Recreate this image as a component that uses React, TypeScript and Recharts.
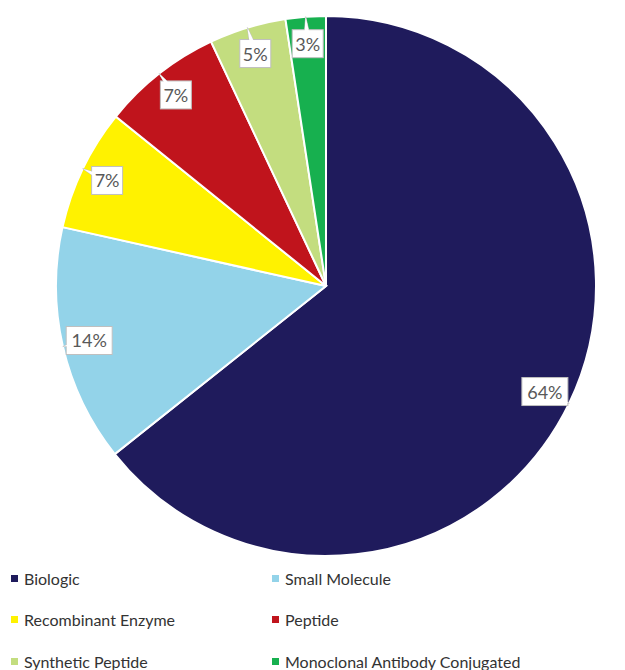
import React from "react";
import { PieChart, Pie, Cell, Legend } from "recharts";

// slice sizes, labels as printed on the chart
const categories = [
  "Biologic",
  "Small Molecule",
  "Recombinant Enzyme",
  "Peptide",
  "Synthetic Peptide",
  "Monoclonal Antibody Conjugated",
];
const shares = [64.3, 14.2, 7.3, 7.2, 4.6, 2.4];
const percentLabels = ["64%", "14%", "7%", "7%", "5%", "3%"];
const colors = ["#1f1b5c", "#93d3e9", "#fff200", "#c0141c", "#c3dd7f", "#17b04f"];

const data = categories.map((name, i) => ({ name, value: shares[i] }));

const FONT = "Lato, 'Open Sans', sans-serif";
const RAD = Math.PI / 180;

const renderLabel = (props: any) => {
  const { cx, cy, midAngle, outerRadius, index } = props;
  const cos = Math.cos(-midAngle * RAD);
  const sin = Math.sin(-midAngle * RAD);
  const bx = cx + outerRadius * 0.9 * cos;
  const by = cy + outerRadius * 0.9 * sin;
  const tx = cx + outerRadius * cos;
  const ty = cy + outerRadius * sin;
  const text = percentLabels[index];
  const w = text.length > 2 ? 46 : 31;
  const h = 28;

  // callout tail from box centre out to the pie edge
  const dx = tx - bx;
  const dy = ty - by;
  const len = Math.hypot(dx, dy) || 1;
  const px = -dy / len;
  const py = dx / len;
  const tail = `${bx + px * 4},${by + py * 4} ${tx},${ty} ${bx - px * 4},${by - py * 4}`;

  return (
    <g key={`lbl-${index}`}>
      <polygon points={tail} fill="#fff" stroke="#bfbfbf" strokeWidth={1} />
      <rect x={bx - w / 2} y={by - h / 2} width={w} height={h} fill="#fff" stroke="#bfbfbf" strokeWidth={1} />
      <polygon points={tail} fill="#fff" stroke="none" />
      <text
        x={bx}
        y={by}
        textAnchor="middle"
        dominantBaseline="central"
        fontFamily={FONT}
        fontSize={18}
        fill="#595959"
      >
        {text}
      </text>
    </g>
  );
};

const renderLegend = () => (
  <div style={{ position: "relative", width: 617, height: 124, fontFamily: FONT }}>
    {categories.map((name, i) => {
      const col = i % 2;
      const row = Math.floor(i / 2);
      return (
        <div
          key={name}
          style={{
            position: "absolute",
            left: col === 0 ? 3 : 264,
            top: row * 41.5,
            height: 40,
            display: "flex",
            alignItems: "center",
            whiteSpace: "nowrap",
          }}
        >
          <span
            style={{
              display: "inline-block",
              width: 7,
              height: 7,
              background: colors[i],
              marginRight: 6,
            }}
          />
          <span style={{ fontSize: 16, color: "#333" }}>{name}</span>
        </div>
      );
    })}
  </div>
);

export default function App() {
  return (
    <div style={{ width: 617, height: 662 }}>
      <PieChart width={617} height={662}>
        <Pie
          data={data}
          dataKey="value"
          nameKey="name"
          cx={313}
          cy={273}
          outerRadius={270}
          startAngle={90}
          endAngle={-270}
          stroke="#fff"
          strokeWidth={2}
          label={renderLabel}
          labelLine={false}
          isAnimationActive={false}
        >
          {data.map((d, i) => (
            <Cell key={d.name} fill={colors[i]} />
          ))}
        </Pie>
        <Legend
          content={renderLegend}
          wrapperStyle={{ position: "absolute", left: 0, top: 550, width: 617, height: 124 }}
        />
      </PieChart>
    </div>
  );
}
